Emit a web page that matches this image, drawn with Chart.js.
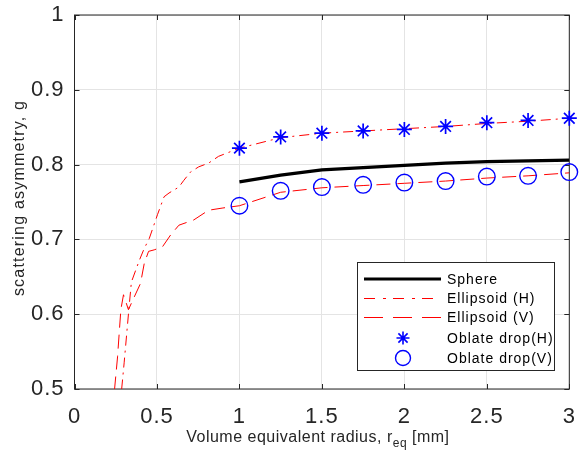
<!DOCTYPE html>
<html><head><meta charset="utf-8">
<script src="https://cdn.jsdelivr.net/npm/chart.js@4/dist/chart.umd.min.js"></script>
<style>html,body{margin:0;padding:0;background:#fff}#wrap{width:579px;height:460px}</style>
</head><body><div id="wrap"><canvas id="c" width="579" height="460"></canvas></div>
<script>
const xTicks = [0, 0.5, 1, 1.5, 2, 2.5, 3];
const yTicks = [0.5, 0.6, 0.7, 0.8, 0.9, 1];
const dropRadius = [1, 1.25, 1.5, 1.75, 2, 2.25, 2.5, 2.75, 3];
const sphereG = [0.777, 0.786, 0.793, 0.796, 0.799, 0.802, 0.804, 0.805, 0.806];
const oblateH = [0.822, 0.837, 0.842, 0.845, 0.847, 0.851, 0.856, 0.859, 0.862];
const oblateV = [0.745, 0.765, 0.770, 0.773, 0.776, 0.778, 0.784, 0.785, 0.790];
const ellipHx = [0.283, 0.286, 0.301, 0.317, 0.331, 0.345, 0.393, 0.423, 0.453, 0.503, 0.543, 0.573, 0.633, 0.663, 0.703, 0.753, 0.813, 0.873, 1, 1.25, 1.5, 1.75, 2, 2.25, 2.5, 2.75, 3];
const ellipHy = [0.47, 0.50, 0.535, 0.575, 0.61, 0.643, 0.672, 0.688, 0.701, 0.733, 0.757, 0.762, 0.770, 0.779, 0.790, 0.797, 0.802, 0.811, 0.822, 0.836, 0.842, 0.845, 0.848, 0.851, 0.855, 0.858, 0.862];
const ellipVx = [0.238, 0.243, 0.261, 0.281, 0.297, 0.327, 0.36, 0.40, 0.423, 0.449, 0.483, 0.533, 0.583, 0.633, 0.723, 0.813, 0.9, 1, 1.25, 1.5, 1.75, 2, 2.25, 2.5, 2.75, 3];
const ellipVy = [0.47, 0.50, 0.543, 0.606, 0.626, 0.606, 0.622, 0.641, 0.668, 0.684, 0.686, 0.690, 0.706, 0.719, 0.726, 0.739, 0.742, 0.745, 0.763, 0.769, 0.772, 0.775, 0.778, 0.782, 0.785, 0.789];
const seriesNames = ['Sphere', 'Ellipsoid (H)', 'Ellipsoid (V)', 'Oblate drop(H)', 'Oblate drop(V)'];
const xTitleParts = ['Volume equivalent radius, r', 'eq', ' [mm]'];
const yTitle = 'scattering asymmetry, g';

const AX = '#262626';
const FONT = '"Liberation Sans", Arial, Helvetica, sans-serif';
const pts = (xs, ys) => xs.map((x, i) => ({x: x, y: ys[i]}));

const dashH = [10, 5, 2, 5];
const dashV = [14, 7];

function drawStar(ctx, x, y, r) {
  const d = r * Math.SQRT1_2;
  ctx.beginPath();
  ctx.moveTo(x - r, y); ctx.lineTo(x + r, y);
  ctx.moveTo(x, y - r); ctx.lineTo(x, y + r);
  ctx.moveTo(x - d, y - d); ctx.lineTo(x + d, y + d);
  ctx.moveTo(x - d, y + d); ctx.lineTo(x + d, y - d);
  ctx.stroke();
}

const framePlugin = {
  id: 'frame',
  beforeDraw(chart) { chart.ctx.letterSpacing = '1px'; },
  beforeDatasetsDraw(chart) {
    const ctx = chart.ctx, a = chart.chartArea;
    const xs = chart.scales.x, ys = chart.scales.y;
    ctx.save();
    ctx.strokeStyle = AX; ctx.lineWidth = 1;
    ctx.strokeRect(a.left, a.top, a.right - a.left, a.bottom - a.top);
    ctx.beginPath();
    xTicks.forEach(v => {
      const p = Math.round(xs.getPixelForValue(v)) + 0.5;
      ctx.moveTo(p, a.bottom); ctx.lineTo(p, a.bottom - 5);
      ctx.moveTo(p, a.top); ctx.lineTo(p, a.top + 5);
    });
    yTicks.forEach(v => {
      const p = Math.round(ys.getPixelForValue(v)) + 0.5;
      ctx.moveTo(a.left, p); ctx.lineTo(a.left + 5, p);
      ctx.moveTo(a.right, p); ctx.lineTo(a.right - 5, p);
    });
    ctx.stroke();
    ctx.restore();
  },
  afterDraw(chart) {
    const ctx = chart.ctx, a = chart.chartArea;
    ctx.save();
    ctx.fillStyle = AX;
    ctx.letterSpacing = '0.5px';
    ctx.textBaseline = 'alphabetic';
    ctx.textAlign = 'left';
    const big = '16px ' + FONT, small = '12px ' + FONT;
    ctx.font = big; const w1 = ctx.measureText(xTitleParts[0]).width;
    ctx.font = small; const w2 = ctx.measureText(xTitleParts[1]).width;
    ctx.font = big; const w3 = ctx.measureText(xTitleParts[2]).width;
    const x0 = (a.left + a.right) / 2 - (w1 + w2 + w3) / 2 - 4;
    const by = 442;
    ctx.font = big; ctx.fillText(xTitleParts[0], x0, by);
    ctx.font = small; ctx.fillText(xTitleParts[1], x0 + w1, by + 5);
    ctx.font = big; ctx.fillText(xTitleParts[2], x0 + w1 + w2, by);
    ctx.letterSpacing = '1.2px';
    ctx.translate(24, (a.top + a.bottom) / 2 - 4);
    ctx.rotate(-Math.PI / 2);
    ctx.textAlign = 'center';
    ctx.font = big;
    ctx.fillText(yTitle, 0, 0);
    ctx.restore();

    ctx.save();
    const L = 357.5, T = 262.5, W = 197, H = 108;
    ctx.fillStyle = '#fff';
    ctx.fillRect(L, T, W, H);
    ctx.strokeStyle = AX; ctx.lineWidth = 1;
    ctx.strokeRect(L, T, W, H);
    const rows = [279, 298, 317, 338, 358];
    const sx0 = 364, sx1 = 441, mx = 403, tx = 447;
    const ds = chart.data.datasets;
    ctx.strokeStyle = ds[0].borderColor; ctx.lineWidth = 3;
    ctx.beginPath(); ctx.moveTo(sx0, rows[0]); ctx.lineTo(sx1, rows[0]); ctx.stroke();
    ctx.strokeStyle = ds[1].borderColor; ctx.lineWidth = 1;
    ctx.setLineDash([11, 8, 3, 7]);
    ctx.beginPath(); ctx.moveTo(sx0, rows[1] + 0.5); ctx.lineTo(sx1, rows[1] + 0.5); ctx.stroke();
    ctx.setLineDash([19, 10]);
    ctx.beginPath(); ctx.moveTo(sx0, rows[2] + 0.5); ctx.lineTo(sx1, rows[2] + 0.5); ctx.stroke();
    ctx.setLineDash([]);
    ctx.strokeStyle = ds[3].borderColor; ctx.lineWidth = 1.6;
    drawStar(ctx, mx, rows[3], 6.5);
    ctx.strokeStyle = ds[4].borderColor; ctx.lineWidth = 1.4;
    ctx.beginPath(); ctx.arc(mx, rows[4], 7.5, 0, Math.PI * 2); ctx.stroke();
    ctx.fillStyle = '#000';
    ctx.font = '14px ' + FONT;
    ctx.letterSpacing = '1px';
    ctx.textAlign = 'left'; ctx.textBaseline = 'middle';
    seriesNames.forEach((n, i) => ctx.fillText(n, tx, rows[i] + 1));
    ctx.restore();
  }
};

new Chart(document.getElementById('c'), {
  type: 'scatter',
  data: {
    datasets: [
      {label: seriesNames[0], data: pts(dropRadius, sphereG), showLine: true, borderColor: '#000000', borderWidth: 3.4, pointRadius: 0, tension: 0, order: 3},
      {label: seriesNames[1], data: pts(ellipHx, ellipHy), showLine: true, borderColor: '#ff0000', borderWidth: 1, borderDash: dashH, pointRadius: 0, tension: 0, order: 4},
      {label: seriesNames[2], data: pts(ellipVx, ellipVy), showLine: true, borderColor: '#ff0000', borderWidth: 1, borderDash: dashV, pointRadius: 0, tension: 0, order: 5},
      {label: seriesNames[3], data: pts(dropRadius, oblateH), showLine: false, pointStyle: 'star', pointRadius: 7.5, borderColor: '#0000ff', backgroundColor: '#0000ff', pointBorderWidth: 1.7, clip: false, order: 1},
      {label: seriesNames[4], data: pts(dropRadius, oblateV), showLine: false, pointStyle: 'circle', pointRadius: 8.3, borderColor: '#0000ff', backgroundColor: 'rgba(0,0,0,0)', pointBorderWidth: 1.4, clip: false, order: 2}
    ]
  },
  options: {
    responsive: false,
    animation: false,
    devicePixelRatio: 1,
    layout: {padding: {top: 15, right: 4.5, left: 0, bottom: 0}},
    plugins: {legend: {display: false}, tooltip: {enabled: false}},
    elements: {point: {hoverRadius: 0}},
    scales: {
      x: {
        type: 'linear', min: 0, max: 3,
        afterBuildTicks: s => { s.ticks = xTicks.map(v => ({value: v})); },
        afterFit: s => { s.height = 71; s.paddingLeft = 0; s.paddingRight = 0; },
        ticks: {font: {family: FONT, size: 22}, color: AX, padding: 15, maxRotation: 0, autoSkip: false, callback: v => String(v)},
        grid: {color: '#e4e4e4', drawTicks: false},
        border: {display: false}
      },
      y: {
        type: 'linear', min: 0.5, max: 1,
        afterBuildTicks: s => { s.ticks = yTicks.map(v => ({value: v})); },
        afterFit: s => { s.width = 74.5; s.paddingTop = 0; s.paddingBottom = 0; },
        ticks: {font: {family: FONT, size: 22}, color: AX, padding: 10, autoSkip: false, callback: v => String(v)},
        grid: {color: '#e4e4e4', drawTicks: false},
        border: {display: false}
      }
    }
  },
  plugins: [framePlugin]
});
</script>
</body></html>
